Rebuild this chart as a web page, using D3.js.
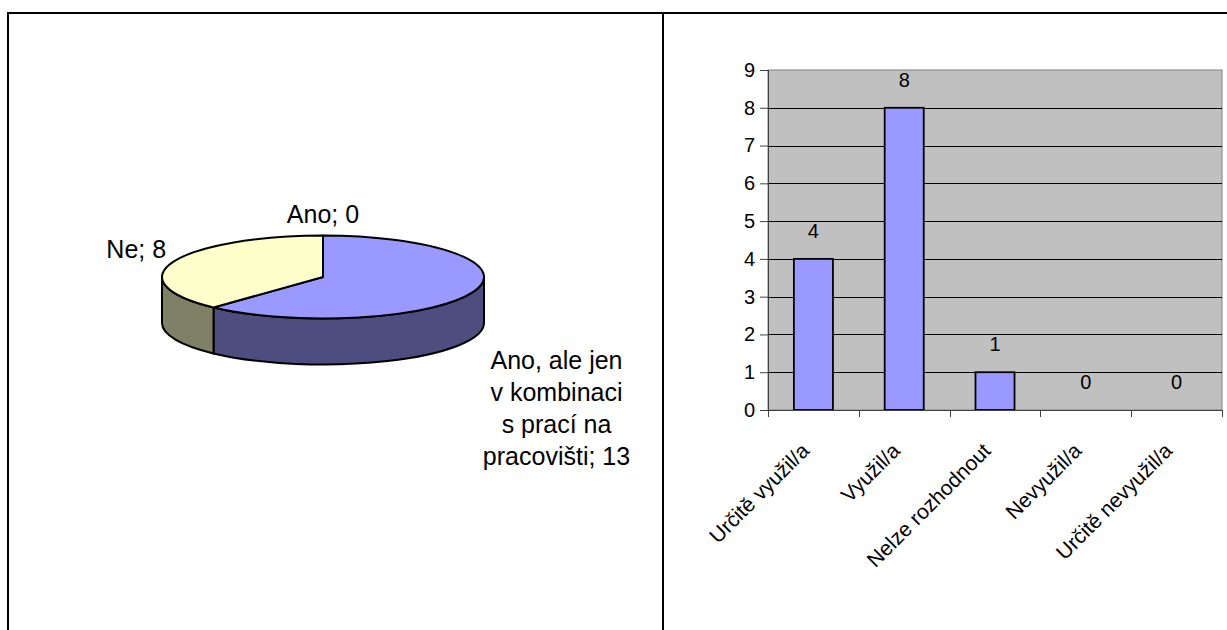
<!DOCTYPE html>
<html>
<head>
<meta charset="utf-8">
<script src="https://cdn.jsdelivr.net/npm/d3@7"></script>
<style>
  html, body { margin: 0; padding: 0; background: #fff; }
  svg { display: block; font-family: "Liberation Sans", Arial, sans-serif; }
</style>
</head>
<body>
<svg id="chart" width="1227" height="630"></svg>
<script>
// ---- data ----
const pieCategories = ["Ano", "Ano, ale jen v kombinaci s prací na pracovišti", "Ne"];
const pieValues = [0, 13, 8];
const pieColors = ["#993366", "#9999FF", "#FFFFCC"];

const barCategories = ["Určitě využil/a", "Využil/a", "Nelze rozhodnout", "Nevyužil/a", "Určitě nevyužil/a"];
const barValues = [4, 8, 1, 0, 0];
const yTickValues = [0, 1, 2, 3, 4, 5, 6, 7, 8, 9];

const svg = d3.select("#chart");

// ---- outer frame and divider ----
svg.append("path")
  .attr("d", "M8,630 V13 H1227 M663,13 V630")
  .attr("fill", "none")
  .attr("stroke", "#000")
  .attr("stroke-width", 2);

// ---- 3D pie ----
const P = { cx: 323, cy: 277, rx: 161, ry: 41.5, depth: 46 };
const pieFont = 25;
const arcs = d3.pie().sort(null).value(d => d)(pieValues);
const color = d3.scaleOrdinal().domain(pieCategories).range(pieColors);
const sideColor = c => { const r = d3.rgb(c); return d3.rgb(r.r * 0.5, r.g * 0.5, r.b * 0.5).formatHex(); };
const pt = (a, dy = 0) => [P.cx + P.rx * Math.sin(a), P.cy - P.ry * Math.cos(a) + dy];

const pieG = svg.append("g");

// visible rim (front half of the cylinder)
arcs.forEach((d, i) => {
  const s0 = Math.max(d.startAngle, Math.PI / 2);
  const s1 = Math.min(d.endAngle, 3 * Math.PI / 2);
  if (s1 - s0 <= 1e-6) return;
  const large = (s1 - s0) > Math.PI ? 1 : 0;
  const path = `M${pt(s0)} A${P.rx},${P.ry} 0 ${large} 1 ${pt(s1)} ` +
               `L${pt(s1, P.depth)} A${P.rx},${P.ry} 0 ${large} 0 ${pt(s0, P.depth)} Z`;
  pieG.append("path")
    .attr("d", path)
    .attr("fill", sideColor(color(pieCategories[i])))
    .attr("stroke", "#000")
    .attr("stroke-width", 2)
    .attr("stroke-linejoin", "round");
});

// top faces
arcs.forEach((d, i) => {
  if (d.endAngle - d.startAngle <= 1e-6) return;
  const large = (d.endAngle - d.startAngle) > Math.PI ? 1 : 0;
  const path = `M${P.cx},${P.cy} L${pt(d.startAngle)} A${P.rx},${P.ry} 0 ${large} 1 ${pt(d.endAngle)} Z`;
  pieG.append("path")
    .attr("d", path)
    .attr("fill", color(pieCategories[i]))
    .attr("stroke", "#000")
    .attr("stroke-width", 2)
    .attr("stroke-linejoin", "round");
});

// slice labels: "category; value", wrapped on the right-hand side
const measure = svg.append("text").attr("font-size", pieFont).attr("visibility", "hidden");
const textWidth = s => { measure.text(s); return measure.node().getComputedTextLength(); };
function wrap(str, maxW) {
  const words = str.split(" ");
  const lines = [];
  let cur = "";
  words.forEach(w => {
    const t = cur ? cur + " " + w : w;
    if (cur && textWidth(t) > maxW) { lines.push(cur); cur = w; } else cur = t;
  });
  if (cur) lines.push(cur);
  return lines;
}

arcs.forEach((d, i) => {
  const mid = (d.startAngle + d.endAngle) / 2;
  const [px, py] = pt(mid);
  const s = Math.sin(mid);
  const label = `${pieCategories[i]};\u00a0${pieValues[i]}`;
  const t = pieG.append("text").attr("font-size", pieFont).attr("fill", "#000");
  if (Math.abs(s) < 0.3) {
    t.attr("x", px).attr("y", py - 13).attr("text-anchor", "middle").text(label);
  } else if (s < 0) {
    t.attr("x", px - 7).attr("y", py - 4).attr("text-anchor", "end").text(label);
  } else {
    const lines = wrap(label, 145);
    const w = d3.max(lines, textWidth);
    const cxText = px + 10 + w / 2;
    t.attr("text-anchor", "middle");
    lines.forEach((ln, k) => {
      t.append("tspan").attr("x", cxText).attr("y", py + P.depth + 31 + k * 32).text(ln);
    });
  }
});
measure.remove();

// ---- bar chart ----
const B = { left: 768, right: 1222, top: 70, bottom: 410 };
const barFont = 20;

const x = d3.scaleBand().domain(barCategories).range([B.left, B.right])
  .paddingInner(0.57).paddingOuter(0.285);
const y = d3.scaleLinear().domain([0, 9]).range([B.bottom, B.top]);

const barG = svg.append("g");

// plot area
barG.append("rect")
  .attr("x", B.left).attr("y", B.top)
  .attr("width", B.right - B.left).attr("height", B.bottom - B.top)
  .attr("fill", "#C0C0C0")
  .attr("stroke", "#808080").attr("stroke-width", 1);

// horizontal gridlines
barG.append("g").selectAll("line")
  .data(yTickValues.filter(v => v > 0 && v < 9))
  .join("line")
  .attr("x1", B.left).attr("x2", B.right)
  .attr("y1", v => Math.round(y(v)) + 0.5).attr("y2", v => Math.round(y(v)) + 0.5)
  .attr("stroke", "#000").attr("stroke-width", 1);

// bars
barG.append("g").selectAll("rect")
  .data(barValues.map((v, i) => ({ c: barCategories[i], v })).filter(d => d.v > 0))
  .join("rect")
  .attr("x", d => x(d.c))
  .attr("y", d => y(d.v))
  .attr("width", x.bandwidth())
  .attr("height", d => y(0) - y(d.v))
  .attr("fill", "#9999FF")
  .attr("stroke", "#000").attr("stroke-width", 1.8);

// value labels
barG.append("g").selectAll("text")
  .data(barValues.map((v, i) => ({ c: barCategories[i], v })))
  .join("text")
  .attr("x", d => x(d.c) + x.bandwidth() / 2)
  .attr("y", d => y(d.v) - 21)
  .attr("text-anchor", "middle")
  .attr("font-size", barFont)
  .attr("fill", "#000")
  .text(d => d.v);

// y axis
const yAxis = barG.append("g")
  .attr("transform", `translate(${B.left},0)`)
  .call(d3.axisLeft(y).tickValues(yTickValues).tickSize(8).tickPadding(5).tickFormat(d3.format("d")));
yAxis.select(".domain").remove();
yAxis.selectAll(".tick line").attr("stroke", "#404040");
yAxis.selectAll(".tick text")
  .attr("font-size", barFont)
  .attr("font-family", "\"Liberation Sans\", Arial, sans-serif")
  .attr("fill", "#000");
barG.append("line")
  .attr("x1", B.left + 0.5).attr("x2", B.left + 0.5)
  .attr("y1", B.top).attr("y2", B.bottom)
  .attr("stroke", "#404040");

// x axis: line, boundary ticks, rotated labels
barG.append("line")
  .attr("x1", B.left).attr("x2", B.right)
  .attr("y1", B.bottom + 0.5).attr("y2", B.bottom + 0.5)
  .attr("stroke", "#404040");
const step = x.step();
barG.append("g").selectAll("line")
  .data(d3.range(barCategories.length + 1))
  .join("line")
  .attr("x1", i => Math.round(B.left + i * step) + 0.5)
  .attr("x2", i => Math.round(B.left + i * step) + 0.5)
  .attr("y1", B.bottom).attr("y2", B.bottom + 7)
  .attr("stroke", "#404040");

barG.append("g").selectAll("text")
  .data(barCategories)
  .join("text")
  .attr("transform", c => `translate(${x(c) + x.bandwidth() / 2 - 3},${B.bottom + 42}) rotate(-45)`)
  .attr("text-anchor", "end")
  .attr("font-size", 21)
  .attr("fill", "#000")
  .text(c => c);
</script>
</body>
</html>
